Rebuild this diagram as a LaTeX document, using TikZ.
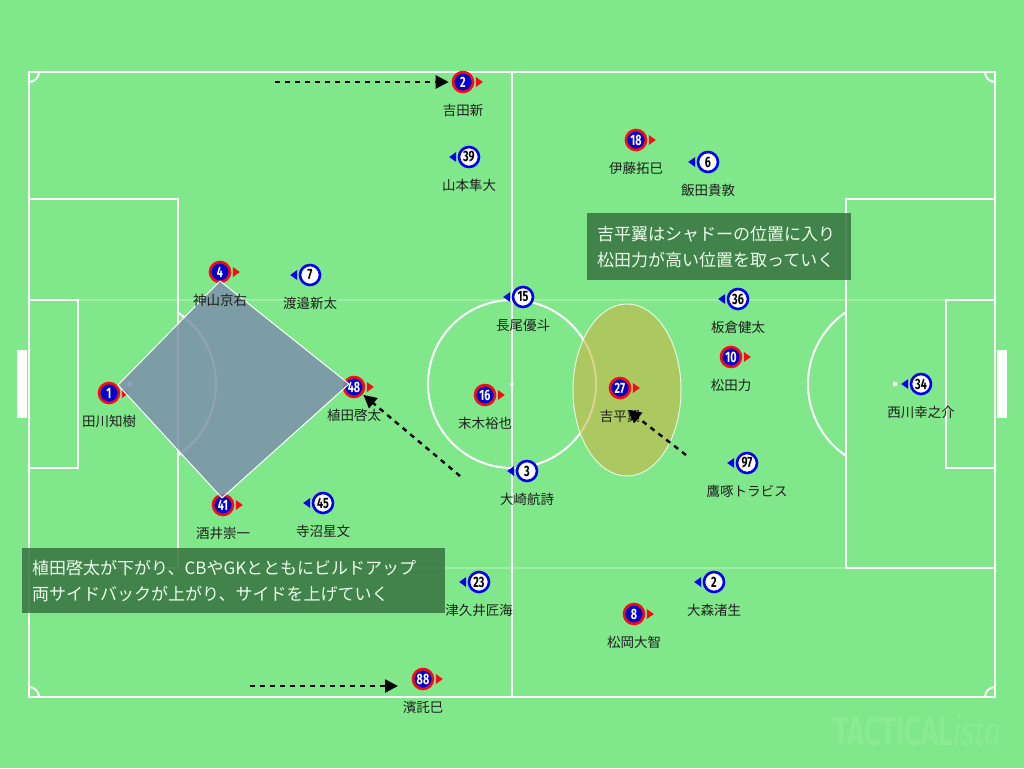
\documentclass[tikz,border=0pt]{standalone}
\usepackage{fontspec}
\newfontfamily\jp{Noto Sans CJK JP}
\newfontfamily\numf{Fira Sans}[FakeStretch=0.72]
\newfontfamily\wmf{Fira Sans}[FakeStretch=0.72]
\usetikzlibrary{arrows.meta,calc}
\definecolor{pitch}{RGB}{128,232,138}
\definecolor{homeblue}{RGB}{0,0,200}
\definecolor{homered}{RGB}{250,10,20}
\definecolor{awayblue}{RGB}{0,0,240}
\definecolor{polyc}{RGB}{124,141,172}
\definecolor{ellc}{RGB}{200,180,70}
\definecolor{boxc}{RGB}{58,118,68}
\definecolor{wmc}{RGB}{139,235,148}
\definecolor{namec}{RGB}{30,30,30}
\tikzset{
  line/.style={draw=white, line width=2pt},
  home/.style={circle, draw=homered, line width=2.6pt, fill=homeblue, text=white, minimum size=20pt, inner sep=0pt, font=\numf\bfseries\fontsize{15}{15}\selectfont},
  away/.style={circle, draw=awayblue, line width=2.6pt, fill=white, text=black, minimum size=20pt, inner sep=0pt, font=\numf\bfseries\fontsize{15}{15}\selectfont},
  pname/.style={font=\jp\fontsize{13.5}{13.5}\selectfont, text=namec, inner sep=0pt},
  runarrow/.style={draw=black, line width=2.4pt, dash pattern=on 5pt off 5pt, -{Triangle[length=13pt,width=13pt]}},
  infobox/.style={fill=boxc, fill opacity=0.88, text opacity=1, text=white!92!green, font=\jp\fontsize{17}{26}\selectfont, align=left, inner xsep=10pt, inner ysep=8pt, anchor=north west}
}
\begin{document}
\begin{tikzpicture}[x=1pt,y=-1pt]
\useasboundingbox (0,0) rectangle (1024,768);
\fill[pitch] (0,0) rectangle (1024,768);
% faint guide lines
\draw[white, opacity=0.25, line width=1.5pt] (29,300) -- (995,300);
\draw[white, opacity=0.25, line width=1.5pt] (29,568) -- (995,568);
% goals
\fill[white] (17,350) rectangle (27,418);
\fill[white] (997,350) rectangle (1007,418);
% pitch lines
\draw[line] (29,72) rectangle (995,697);
\draw[line] (512,72) -- (512,697);
\draw[line] (512,384) circle[radius=84pt];
\fill[white] (512,384) circle[radius=2pt];
\draw[line] (29,199) rectangle (178,568);
\draw[line] (29,300) rectangle (78,468);
\draw[line] (995,199) rectangle (846,568);
\draw[line] (995,300) rectangle (946,468);
\fill[white] (130,384) circle[radius=2.5pt];
\fill[white] (895,384) circle[radius=2.5pt];
\begin{scope}
\clip (178,0) rectangle (400,768);
\draw[line] (130,384) circle[radius=86pt];
\end{scope}
\begin{scope}
\clip (846,0) rectangle (600,768);
\draw[line] (895,384) circle[radius=87pt];
\end{scope}
\begin{scope}
\clip (29,72) rectangle (995,697);
\draw[line] (29,72) circle[radius=10pt];
\draw[line] (995,72) circle[radius=10pt];
\draw[line] (29,697) circle[radius=10pt];
\draw[line] (995,697) circle[radius=10pt];
\end{scope}
% highlight ellipse
\fill[ellc, fill opacity=0.6] (627,390) ellipse[x radius=54pt, y radius=86pt];
\draw[white, line width=1pt, opacity=0.8] (627,390) ellipse[x radius=54pt, y radius=86pt];
% home players
\foreach \id/\x/\y/\n in {h2/463/82/2, h18/636/140/18, h4/220/272/4, h1/109/393/1, h48/354/387/48, h16/485/395/16, h27/620/388/27, h10/731/357/10, h41/223/505/41, h8/634/614/8, h88/423/679/88}{
  \node[home] (\id) at (\x,\y) {\n};
  \fill[homered] ($(\id.east)+(1.5,-5)$) -- ++(7,5) -- ++(-7,5) -- cycle;
}
% away players
\foreach \id/\x/\y/\n in {a39/469/157/39, a6/708/162/6, a7/310/275/7, a15/523/297/15, a36/738/299/36, a34/921/384/34, a3/527/471/3, a97/747/463/97, a45/323/503/45, a23/479/582/23, a2/714/582/2}{
  \node[away] (\id) at (\x,\y) {\n};
  \fill[awayblue] ($(\id.west)+(-1.5,-5)$) -- ++(-7,5) -- ++(7,5) -- cycle;
}
% build-up shape
\fill[polyc, fill opacity=0.82] (118,385) -- (220,281) -- (349,384) -- (222,498) -- cycle;
\draw[white, line width=1pt] (118,385) -- (220,281) -- (349,384) -- (222,498) -- cycle;
% names
\foreach \id/\lab in {h2/吉田新, h18/伊藤拓巳, h4/神山京右, h1/田川知樹, h48/植田啓太, h16/末木裕也, h27/吉平翼, h10/松田力, h41/酒井崇一, h8/松岡大智, h88/濱託巳, a39/山本隼大, a6/飯田貴敦, a7/渡邉新太, a15/長尾優斗, a36/板倉健太, a34/西川幸之介, a3/大崎航詩, a97/鷹啄トラビス, a45/寺沼星文, a23/津久井匠海, a2/大森渚生}{
  \node[pname] (\id l) at ($(\id)+(0,28)$) {\lab};
}
% runs
\coordinate (r1s) at (275,82);
\draw[runarrow, shorten >=3pt] (r1s) -- (h2.west);
\coordinate (r2s) at (250,686);
\coordinate (r2e) at (398,686);
\draw[runarrow] (r2s) -- (r2e);
\coordinate (r3s) at (460,476);
\draw[runarrow, shorten >=1pt] (r3s) -- (h48);
\coordinate (r4s) at (686,455);
\coordinate (r4e) at (628,410);
\draw[runarrow] (r4s) -- (r4e);
% info boxes
\node[infobox, text width=244pt, minimum height=67pt] (b1) at (587,213) {吉平翼はシャドーの位置に入り\\松田力が高い位置を取っていく};
\node[infobox, text width=403pt, minimum height=65pt] (b2) at (22,548) {植田啓太が下がり、CBやGKとともにビルドアップ\\両サイドバックが上がり、サイドを上げていく};
% watermark
\node[text=wmc, font=\wmf\fontsize{40}{40}\selectfont, inner sep=0pt] (wm) at (917,730) {\textbf{TACTICAL}\textit{ista}};
\end{tikzpicture}
\end{document}
